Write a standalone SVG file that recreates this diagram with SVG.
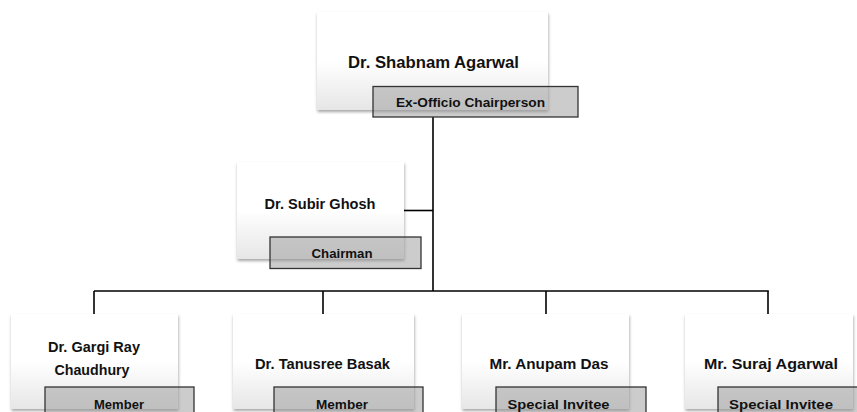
<svg xmlns="http://www.w3.org/2000/svg" width="857" height="412" viewBox="0 0 857 412">
  <style>
    .box { fill: url(#boxGrad); filter: url(#shadow); }
    .tag { fill: #9a9a9a; fill-opacity: 0.5; stroke: #333; stroke-width: 1.3; }
    .name { font-family: "Liberation Sans", Arial, sans-serif; font-weight: bold; font-size: 15px; fill: #111; text-anchor: middle; }
    .big { font-size: 17px; }
    .role { font-family: "Liberation Sans", Arial, sans-serif; font-weight: bold; font-size: 13.5px; fill: #111; text-anchor: middle; }
    .conn { stroke: #000; stroke-width: 1.6; fill: none; }
  </style>
  <defs>
    <linearGradient id="boxGrad" x1="0" y1="0" x2="0" y2="1">
      <stop offset="0" stop-color="#ffffff"/>
      <stop offset="0.5" stop-color="#ffffff"/>
      <stop offset="1" stop-color="#e6e6e6"/>
    </linearGradient>
    <filter id="shadow" x="-10%" y="-10%" width="120%" height="130%">
      <feDropShadow dx="0.5" dy="2" stdDeviation="1.5" flood-color="#000" flood-opacity="0.35"/>
    </filter>
  </defs>
  <rect width="857" height="412" fill="#fff"/>

  <g id="connectors">
    <line class="conn" x1="433" y1="117" x2="433" y2="291"/>
    <line class="conn" x1="404" y1="210.5" x2="433" y2="210.5"/>
    <line class="conn" x1="94" y1="291" x2="768.8" y2="291"/>
    <line class="conn" x1="94" y1="291" x2="94" y2="314"/>
    <line class="conn" x1="323" y1="291" x2="323" y2="314"/>
    <line class="conn" x1="546" y1="291" x2="546" y2="314"/>
    <line class="conn" x1="768" y1="291" x2="768" y2="314"/>
  </g>

  <g id="node-shabnam">
    <rect class="box" x="317" y="12" width="231" height="98"/>
    <text class="name big" x="433.5" y="68" textLength="171" lengthAdjust="spacingAndGlyphs">Dr. Shabnam Agarwal</text>
    <rect class="tag" x="373" y="86.5" width="205" height="30.5"/>
    <text class="role" x="470.5" y="107" textLength="149" lengthAdjust="spacingAndGlyphs">Ex-Officio Chairperson</text>
  </g>

  <g id="node-subir">
    <rect class="box" x="237" y="162" width="167" height="97"/>
    <text class="name" x="320" y="209" textLength="111" lengthAdjust="spacingAndGlyphs">Dr. Subir Ghosh</text>
    <rect class="tag" x="270" y="237" width="151" height="31.5"/>
    <text class="role" x="342" y="258" textLength="61" lengthAdjust="spacingAndGlyphs">Chairman</text>
  </g>

  <g id="node-gargi">
    <rect class="box" x="11" y="314" width="167" height="95"/>
    <text class="name" x="94" y="352" textLength="92" lengthAdjust="spacingAndGlyphs">Dr. Gargi Ray</text>
    <text class="name" x="92" y="375" textLength="75" lengthAdjust="spacingAndGlyphs">Chaudhury</text>
    <rect class="tag" x="45" y="387" width="149" height="31"/>
    <text class="role" x="119" y="409" textLength="50" lengthAdjust="spacingAndGlyphs">Member</text>
  </g>

  <g id="node-tanusree">
    <rect class="box" x="233" y="314" width="181" height="95"/>
    <text class="name" x="322.5" y="369" textLength="135" lengthAdjust="spacingAndGlyphs">Dr. Tanusree Basak</text>
    <rect class="tag" x="274" y="387" width="149" height="31"/>
    <text class="role" x="342" y="409" textLength="52" lengthAdjust="spacingAndGlyphs">Member</text>
  </g>

  <g id="node-anupam">
    <rect class="box" x="462" y="314" width="167" height="95"/>
    <text class="name" x="549" y="369" textLength="119" lengthAdjust="spacingAndGlyphs">Mr. Anupam Das</text>
    <rect class="tag" x="496" y="387" width="150" height="31"/>
    <text class="role" x="558.5" y="409" textLength="102" lengthAdjust="spacingAndGlyphs">Special Invitee</text>
  </g>

  <g id="node-suraj">
    <rect class="box" x="685" y="314" width="168" height="95"/>
    <text class="name" x="771" y="369" textLength="134" lengthAdjust="spacingAndGlyphs">Mr. Suraj Agarwal</text>
    <rect class="tag" x="718" y="387" width="150" height="31"/>
    <text class="role" x="781" y="409" textLength="104" lengthAdjust="spacingAndGlyphs">Special Invitee</text>
  </g>
</svg>
